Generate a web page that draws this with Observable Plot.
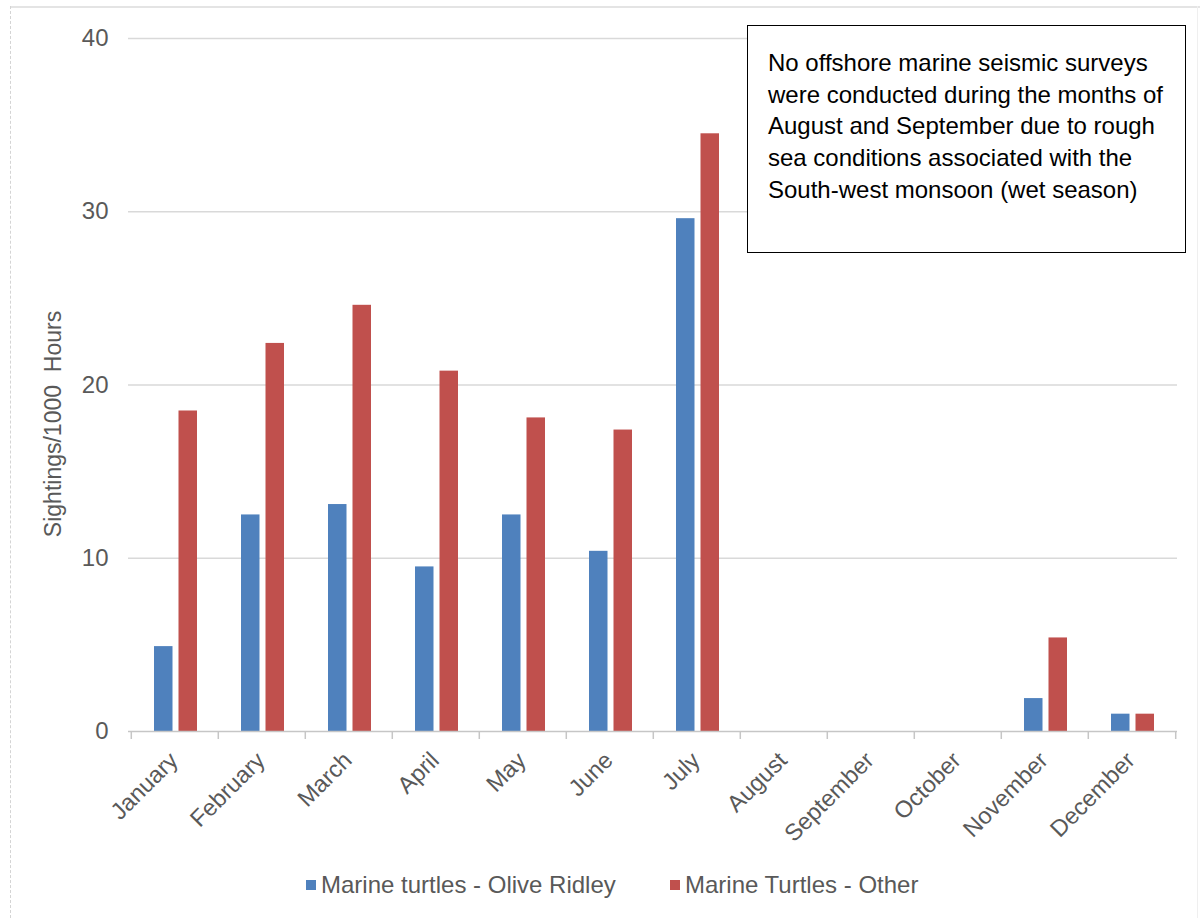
<!DOCTYPE html>
<html><head><meta charset="utf-8">
<script src="https://cdn.jsdelivr.net/npm/d3@7"></script>
<script src="https://cdn.jsdelivr.net/npm/@observablehq/plot@0.6"></script>
<style>
body{margin:0;background:#fff;font-family:"Liberation Sans",Arial,sans-serif;}
#wrap{position:relative;width:1200px;height:918px;overflow:hidden;background:#fff;}
#chart{position:absolute;left:0;top:0;}
.frame-top{position:absolute;left:10px;top:6px;width:1190px;height:0;border-top:2px solid #e4e4e4;}
.frame-left{position:absolute;left:10px;top:6px;width:0;height:912px;border-left:1.5px dashed #d4d4d4;}
.frame-right{position:absolute;left:1197px;top:6px;width:0;height:912px;border-left:1px solid #efefef;}
#note{position:absolute;left:747px;top:25px;width:439px;height:228px;box-sizing:border-box;border:1.5px solid #000;background:#fff;
  padding:21px 0 0 20px;font-size:24px;line-height:31.7px;color:#000;}
#legend{position:absolute;top:870px;left:0;width:1200px;height:30px;font-size:24px;color:#595959;line-height:30px;}
.item{position:absolute;top:0;white-space:nowrap;}
.sw{position:absolute;width:10px;height:10px;top:10px;}
</style></head><body>
<div id="wrap">
  <div class="frame-top"></div><div class="frame-left"></div><div class="frame-right"></div>
  <div id="chart"></div>
  <div id="note"></div>
  <div id="legend"></div>
</div>
<script>
const months = ["January","February","March","April","May","June","July","August","September","October","November","December"];
const oliveRidley = [4.9, 12.5, 13.1, 9.5, 12.5, 10.4, 29.6, 0, 0, 0, 1.9, 1.0];
const otherTurtles = [18.5, 22.4, 24.6, 20.8, 18.1, 17.4, 34.5, 0, 0, 0, 5.4, 1.0];
const seriesNames = ["Marine turtles - Olive Ridley", "Marine Turtles - Other"];
const seriesColors = ["#4F81BD", "#C0504D"];
const yTicks = [0, 10, 20, 30, 40];
const yLabel = "Sightings/1000\u00a0 Hours";
const noteLines = [
  "No offshore marine seismic surveys",
  "were conducted during the months of",
  "August and September due to rough",
  "sea conditions associated with the",
  "South-west monsoon (wet season)"
];

const data = months.map((m, i) => ({month: m, olive: oliveRidley[i], other: otherTurtles[i]}));
const W = 1200, H = 860, mL = 128, mR = 23;
const bw = (W - mL - mR) / months.length;
const axisGray = "#c6c6c6";

const chart = Plot.plot({
  width: W, height: H,
  marginTop: 38, marginLeft: mL, marginRight: mR, marginBottom: 129,
  style: {fontFamily: '"Liberation Sans", Arial, sans-serif', color: "#595959", background: "transparent"},
  x: {domain: months, padding: 0},
  y: {domain: [0, 40]},
  marks: [
    Plot.ruleY(yTicks.filter(d => d > 0), {stroke: "#d9d9d9", strokeWidth: 1.5}),
    Plot.barY(data, {x: "month", y: "olive", fill: seriesColors[0], insetLeft: 23, insetRight: 45.5}),
    Plot.barY(data, {x: "month", y: "other", fill: seriesColors[1], insetLeft: 47.5, insetRight: 21}),
    Plot.ruleY([0], {stroke: axisGray, strokeWidth: 1.5}),
    Plot.ruleX(data, {x: "month", y1: 0, y2: 0, insetBottom: -8, dx: -bw / 2, stroke: axisGray, strokeWidth: 1.5}),
    Plot.ruleX(data.slice(-1), {x: "month", y1: 0, y2: 0, insetBottom: -8, dx: bw / 2, stroke: axisGray, strokeWidth: 1.5}),
    Plot.axisY({ticks: yTicks, tickSize: 0, tickPadding: 20, fontSize: 24, label: null}),
    Plot.axisX({tickSize: 0, tickRotate: -45, tickPadding: 25, fontSize: 23.5, label: null, dx: -1}),
    Plot.text([yLabel], {frameAnchor: "left", textAnchor: "middle", lineAnchor: "middle", rotate: -90, dx: -75, dy: 39, fontSize: 23, fill: "#595959"})
  ]
});
document.getElementById("chart").appendChild(chart);

const note = document.getElementById("note");
note.innerHTML = noteLines.map(l => `<div>${l}</div>`).join("");

const legend = document.getElementById("legend");
const swLeft = [306, 670];
seriesNames.forEach((name, i) => {
  const sw = document.createElement("div");
  sw.className = "sw"; sw.style.left = swLeft[i] + "px"; sw.style.background = seriesColors[i];
  legend.appendChild(sw);
  const t = document.createElement("div");
  t.className = "item"; t.style.left = (swLeft[i] + 15) + "px"; t.textContent = name;
  legend.appendChild(t);
});
</script>
</body></html>
